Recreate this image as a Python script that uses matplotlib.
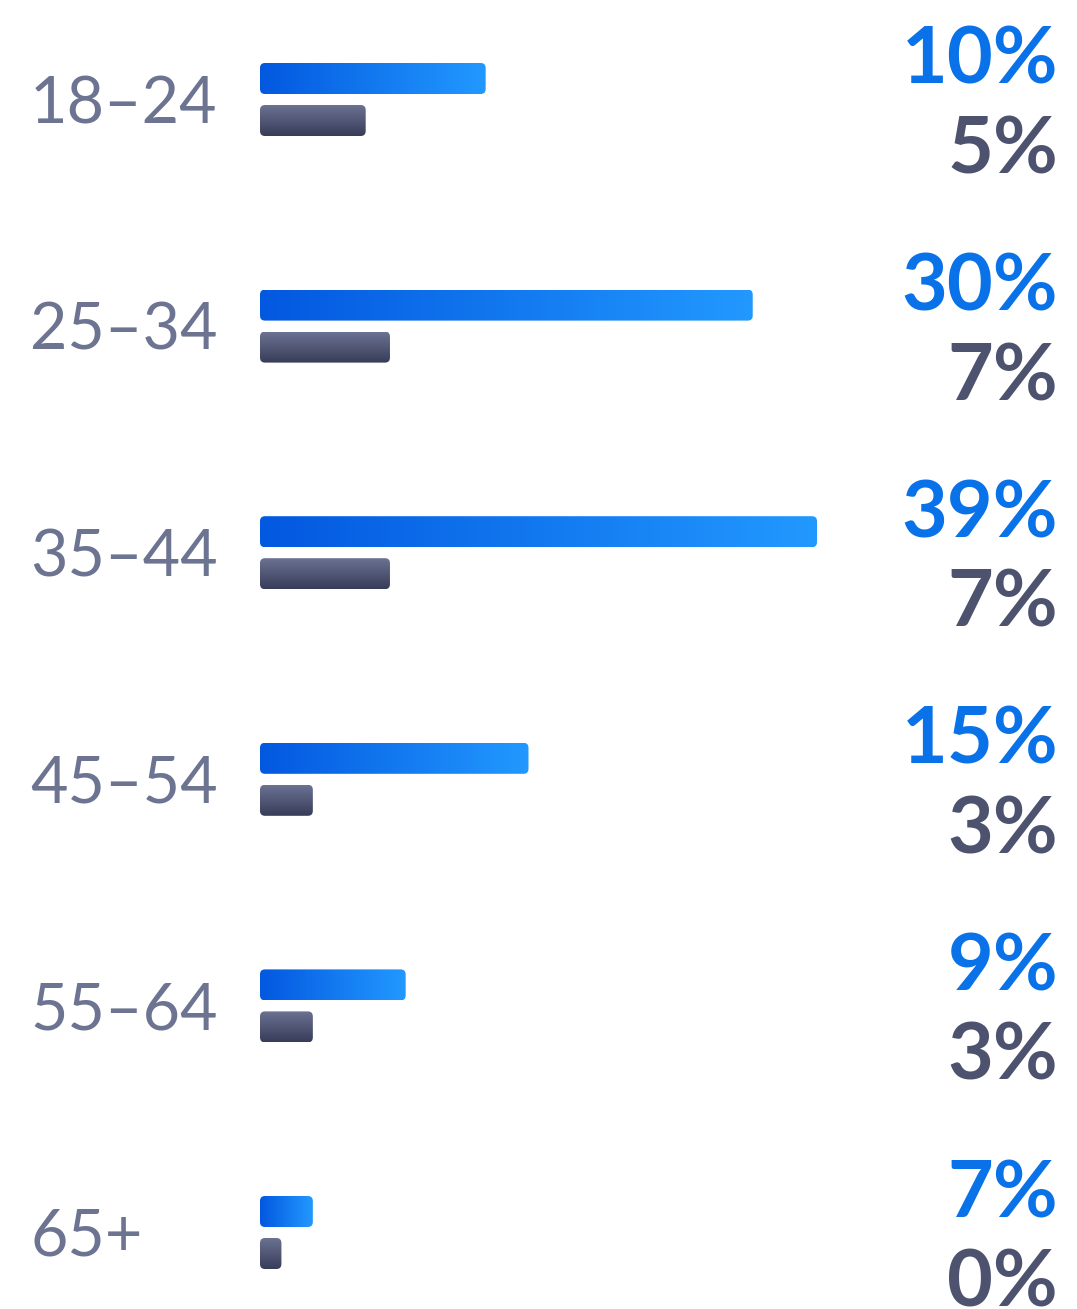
import numpy as np
import matplotlib
matplotlib.use('Agg')
import matplotlib.pyplot as plt
from matplotlib.patches import FancyBboxPatch
from matplotlib.colors import to_rgb

# ---- data ----
age_groups = ["18–24", "25–34", "35–44", "45–54", "55–64", "65+"]
blue_bar = [15.8, 34.5, 39.0, 18.8, 10.2, 3.7]     # bar lengths (relative)
gray_bar = [7.4, 9.1, 9.1, 3.7, 3.7, 1.5]
blue_labels = ["10%", "30%", "39%", "15%", "9%", "7%"]
gray_labels = ["5%", "7%", "7%", "3%", "3%", "0%"]

W, H = 1077, 1309
fig = plt.figure(figsize=(W / 100, H / 100), dpi=100)
fig.patch.set_facecolor('white')

ax = fig.add_axes([0, 0, 1, 1])
ax.axis('off')
pxu_x = 557 / 39.0
row_px = 226.6
top_off = 78.5
bar_left_px = 260
x_left = -bar_left_px / pxu_x
x_right = (W - bar_left_px) / pxu_x
ylim = (-(H - top_off) / row_px, top_off / row_px)
bar_h = 31 / row_px
gap = 42 / row_px
rs = 5 / pxu_x
ma = pxu_x / row_px


def grad_bar(x, yc, w, c0, c1, horizontal):
    y0 = yc - bar_h / 2
    patch = FancyBboxPatch((x, y0), w, bar_h,
                           boxstyle=f"round,pad=0,rounding_size={rs}",
                           mutation_aspect=ma, fc='none', ec='none')
    ax.add_patch(patch)
    t = np.linspace(0, 1, 256)
    cols = (1 - t)[:, None] * np.array(to_rgb(c0)) + t[:, None] * np.array(to_rgb(c1))
    img = cols[None, :, :] if horizontal else cols[:, None, :]
    im = ax.imshow(img, extent=(x, x + w, y0, y0 + bar_h), origin='lower',
                   aspect='auto', interpolation='bilinear', zorder=2)
    im.set_clip_path(patch)


for i in range(len(age_groups)):
    yc = -i
    grad_bar(0, yc, blue_bar[i], '#0358e0', '#2299ff', True)
    grad_bar(0, yc - gap, gray_bar[i], '#373c58', '#6b7292', False)

ax.set_autoscale_on(False)
ax.set_xlim(x_left, x_right)
ax.set_ylim(*ylim)

# ---- text overlay in pixel coordinates ----
tax = fig.add_axes([0, 0, 1, 1])
tax.axis('off')
tax.patch.set_alpha(0)
tax.set_xlim(0, W)
tax.set_ylim(0, H)

for i, g in enumerate(age_groups):
    base = 123 + row_px * i
    tax.text(30, H - base, g, ha='left', va='baseline', fontfamily='Lato',
             fontsize=46.5, color='#6c7491')
    bb = 84 + row_px * i
    tax.text(1058, H - bb, blue_labels[i], ha='right', va='baseline',
             fontfamily='Lato', fontweight='bold', fontsize=57, color='#0a72e8')
    gb = 173.5 + row_px * i
    tax.text(1058, H - gb, gray_labels[i], ha='right', va='baseline',
             fontfamily='Lato', fontweight='bold', fontsize=57, color='#4d526e')

fig.savefig('out.png', dpi=100, facecolor='white')
